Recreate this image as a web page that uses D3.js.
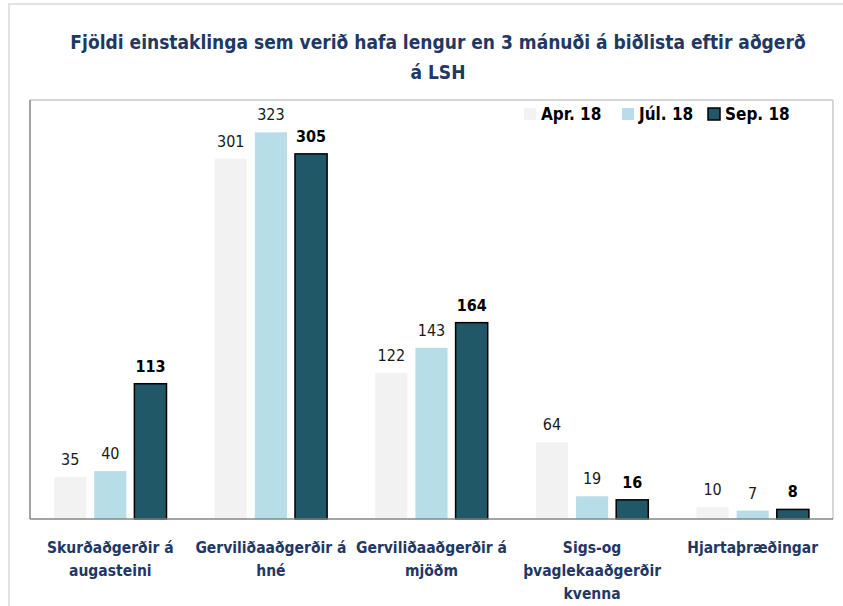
<!DOCTYPE html>
<html><head><meta charset="utf-8">
<script src="https://cdn.jsdelivr.net/npm/d3@7"></script>
<style>
body{margin:0;background:#fff;}
text{font-family:"Liberation Sans Narrow","DejaVu Sans Condensed","Arial Narrow",sans-serif;}
</style></head>
<body>
<svg id="c" width="843" height="606"></svg>
<script>
const categories = [
  ["Skurðaðgerðir á","augasteini"],
  ["Gerviliðaaðgerðir á","hné"],
  ["Gerviliðaaðgerðir á","mjöðm"],
  ["Sigs-og","þvaglekaaðgerðir","kvenna"],
  ["Hjartaþræðingar"]
];
const seriesNames = ["Apr. 18","Júl. 18","Sep. 18"];
const apr = [35,301,122,64,10];
const jul = [40,323,143,19,7];
const sep = [113,305,164,16,8];
const seriesValues = [apr, jul, sep];
const colors = ["#f2f2f2","#b7dde8","#215868"];

const svg = d3.select("#c");
// outer frame
svg.append("rect").attr("x",9).attr("y",4).attr("width",900).attr("height",700)
  .attr("fill","none").attr("stroke","#d9d9d9").attr("stroke-width",1.5);

const L=30, R=833, T=100, B=519;
const x0 = d3.scaleBand().domain(d3.range(categories.length)).range([L,R]).paddingInner(0.3).paddingOuter(0.15);
const x1 = d3.scaleBand().domain(d3.range(3)).range([0,x0.bandwidth()]).paddingInner(0.2);
const y = d3.scaleLinear().domain([0,350]).range([B,T]);

// plot area border
svg.append("line").attr("x1",L).attr("x2",R).attr("y1",T).attr("y2",T).attr("stroke","#c8c8c8").attr("stroke-width",1.5);
svg.append("line").attr("x1",R).attr("x2",R).attr("y1",T).attr("y2",B).attr("stroke","#c8c8c8").attr("stroke-width",1.5);

// title
const title = svg.append("text").attr("x",438).attr("text-anchor","middle")
  .attr("fill","#1f3864").attr("font-weight","bold").attr("font-size",19);
title.append("tspan").attr("x",438).attr("y",49).text("Fjöldi einstaklinga sem verið hafa lengur en 3 mánuði á biðlista eftir aðgerð");
title.append("tspan").attr("x",438).attr("y",79).text("á LSH");

// bars
const g = svg.append("g");
categories.forEach((c,i)=>{
  seriesValues.forEach((vals,s)=>{
    const bx = x0(i)+x1(s);
    const v = vals[i];
    g.append("rect").attr("x",bx).attr("y",y(v)).attr("width",x1.bandwidth()).attr("height",B-y(v))
      .attr("fill",colors[s])
      .attr("stroke", s===2 ? "#000" : "none").attr("stroke-width", s===2 ? 1.5 : 0);
    g.append("text").attr("x",bx+x1.bandwidth()/2).attr("y",y(v)-12)
      .attr("text-anchor","middle").attr("font-size",16)
      .attr("font-weight", s===2 ? "bold":"normal")
      .attr("fill", s===2 ? "#000" : "#1a1a1a").text(v);
  });
});

// axes lines (left & bottom)
svg.append("line").attr("x1",L).attr("x2",L).attr("y1",T).attr("y2",B).attr("stroke","#868686").attr("stroke-width",1.5);
const xAxis = d3.axisBottom(x0).tickSize(0).tickFormat("");
const ax = svg.append("g").attr("transform",`translate(0,${B})`).call(xAxis);
ax.select(".domain").attr("d",`M${L},0H${R}`).attr("stroke","#868686").attr("stroke-width",1.5);

// category labels
categories.forEach((lines,i)=>{
  const t = svg.append("text").attr("text-anchor","middle").attr("font-size",15.5)
    .attr("font-weight","bold").attr("fill","#1f3864");
  lines.forEach((ln,j)=>{
    t.append("tspan").attr("x",x0(i)+x0.bandwidth()/2).attr("y",553+j*23).text(ln);
  });
});

// legend
const legX = [524,622,708];
seriesNames.forEach((n,s)=>{
  svg.append("rect").attr("x",legX[s]).attr("y",108).attr("width",12).attr("height",12)
    .attr("fill",colors[s]).attr("stroke", s===2?"#000":"none").attr("stroke-width",1.5);
  svg.append("text").attr("x",legX[s]+17).attr("y",120).attr("font-size",17)
    .attr("font-weight","bold").attr("fill","#000").text(n);
});
</script>
</body></html>
